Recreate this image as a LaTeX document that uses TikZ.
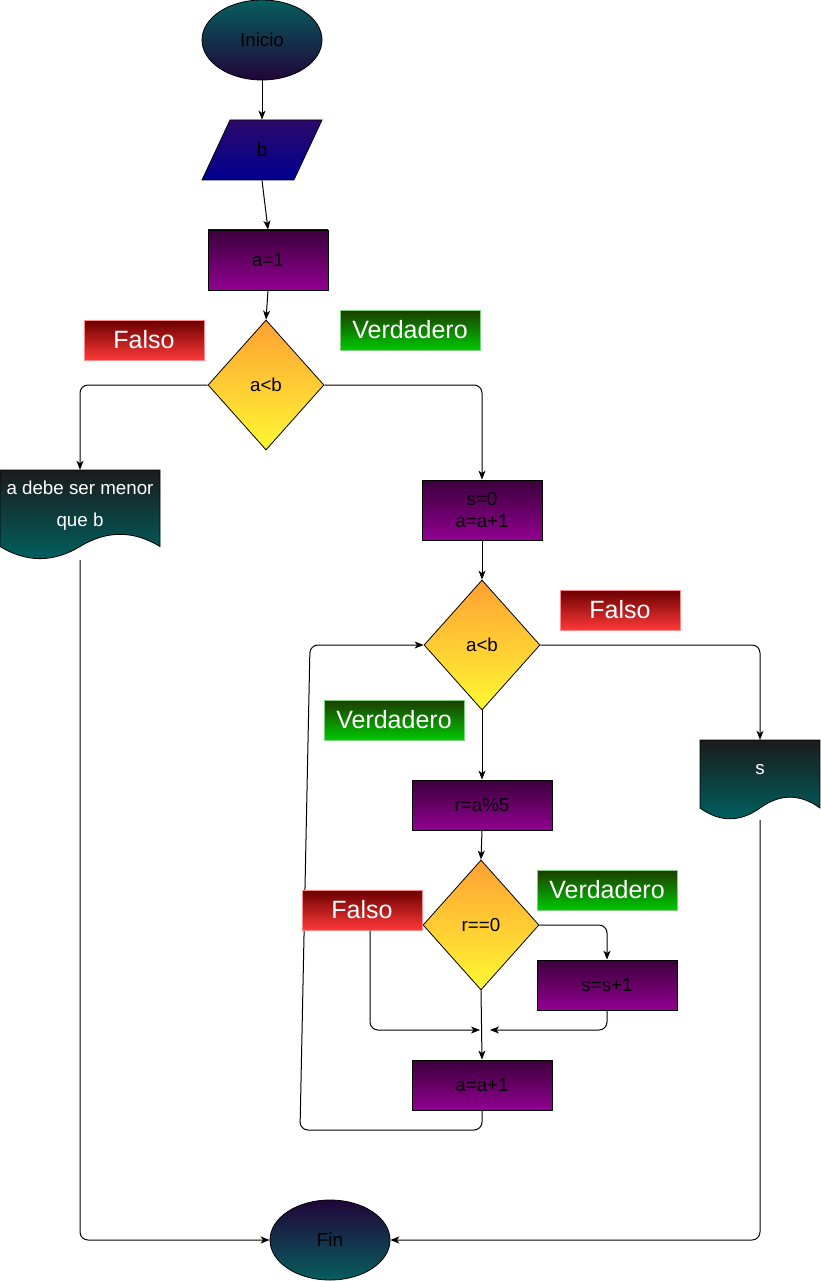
\documentclass[tikz,border=0pt]{standalone}
\usepackage{fontspec}
\setmainfont{Liberation Sans}
\usetikzlibrary{shapes.geometric,arrows.meta}
\definecolor{termtop}{HTML}{065E5E}
\definecolor{termbot}{HTML}{210538}
\definecolor{intop}{HTML}{2C0A6B}
\definecolor{inbot}{HTML}{00008F}
\definecolor{proctop}{HTML}{3C003C}
\definecolor{procbot}{HTML}{910091}
\definecolor{condtop}{HTML}{FFA033}
\definecolor{condbot}{HTML}{FFF833}
\definecolor{doctop}{HTML}{1B1B1B}
\definecolor{docbot}{HTML}{006262}
\definecolor{falsotop}{HTML}{6A0000}
\definecolor{falsobot}{HTML}{FF3838}
\definecolor{falsoline}{HTML}{FF8C8C}
\definecolor{verdtop}{HTML}{1C3C00}
\definecolor{verdbot}{HTML}{00C800}
\definecolor{verdline}{HTML}{80D080}

\begin{document}
\begin{tikzpicture}[x=1pt,y=1pt,
  base/.style={draw=black,line width=0.8pt,font=\fontsize{18.75}{22.5}\selectfont,align=center},
  term/.style={base,ellipse,minimum width=120pt,minimum height=80pt},
  inbox/.style={base,trapezium,trapezium left angle=71.57,trapezium right angle=108.43,
    trapezium stretches=true,minimum width=120pt,minimum height=60pt,top color=intop,bottom color=inbot},
  proc/.style={base,rectangle,top color=proctop,bottom color=procbot},
  cond/.style={base,diamond,minimum width=116pt,minimum height=130pt,top color=condtop,bottom color=condbot},
  docarea/.style={rectangle},
  doctext/.style={text=white,font=\fontsize{18.75}{22.5}\selectfont,align=center},
  tag/.style={rectangle,text=white,line width=1pt,font=\fontsize{25}{30}\selectfont,minimum height=40pt},
  falso/.style={tag,draw=falsoline,top color=falsotop,bottom color=falsobot,minimum width=120pt},
  verdad/.style={tag,draw=verdline,top color=verdtop,bottom color=verdbot,minimum width=140pt},
  flow/.style={line width=1pt,rounded corners=8pt,-{Stealth[length=9pt,width=7pt,inset=2.5pt]}}
]
\tikzstyle{every node}+=[inner sep=0pt]
\useasboundingbox (0,0) rectangle (821,-1281);
% start / end
\node [term,top color=termtop,bottom color=termbot] (inicio) at (262,-40) {Inicio};
\node [term,top color=termbot,bottom color=termtop] (fin) at (330,-1240) {Fin};
% input and first test
\node [inbox] (leer) at (262,-150) {b};
\node [proc,minimum width=120pt,minimum height=60pt] (ainit) at (268,-260) {a=1};
\node [cond] (test1) at (266,-385) {a<b};
% message output
\shade [draw=black,line width=0.8pt,top color=doctop,bottom color=docbot]
  (0,-470) -- (160,-470) -- (160,-546.5)
  .. controls (133.3,-530.3) and (106.7,-530.3) .. (80,-546.5)
  .. controls (53.3,-562.7) and (26.7,-562.7) .. (0,-546.5) -- cycle;
\node [docarea,minimum width=160pt,minimum height=90pt] (msg) at (80,-515) {};
\node [doctext] (msgtxt) at (80,-506) {a debe ser menor\\[9.5pt]que b};
% loop
\node [proc,minimum width=120pt,minimum height=60pt] (sinit) at (482,-510) {s=0\\a=a+1};
\node [cond] (test2) at (482,-645) {a<b};
\node [proc,minimum width=140pt,minimum height=50pt] (resto) at (482,-805) {r=a\%5};
\node [cond] (test3) at (481,-925) {r==0};
\node [proc,minimum width=140pt,minimum height=50pt] (suma) at (607,-985) {s=s+1};
\node [proc,minimum width=140pt,minimum height=50pt] (incr) at (482,-1085) {a=a+1};
% result output
\shade [draw=black,line width=0.8pt,top color=doctop,bottom color=docbot]
  (700,-740) -- (820,-740) -- (820,-808)
  .. controls (800,-793.6) and (780,-793.6) .. (760,-808)
  .. controls (740,-822.4) and (720,-822.4) .. (700,-808) -- cycle;
\node [docarea,minimum width=120pt,minimum height=80pt] (res) at (760,-780) {};
\node [doctext] (restxt) at (760,-770) {s};
% helper points
\coordinate (jleft) at (480,-1030);
\coordinate (jright) at (490,-1030);
\coordinate (lbot) at (300,-1130);
\coordinate (ltop) at (310,-645);
% connectors
\draw [flow] (inicio) -- (leer);
\draw [flow] (leer.south) -- (ainit.north);
\draw [flow] (ainit.south) -- (test1.north);
\draw [flow] (test1.west) -| (msg.north);
\draw [flow] (test1.east) -| (sinit.north);
\draw [flow] (msg.south) |- (fin.west);
\draw [flow] (sinit.south) -- (test2.north);
\draw [flow] (test2.east) -| (res.north);
\draw [flow] (res.south) |- (fin.east);
\draw [flow] (test2.south) -- (resto.north);
\draw [flow] (resto.south) -- (test3.north);
\draw [flow] (test3.east) -| (suma.north);
\draw [flow] (suma.south) |- (jright);
\draw [flow] (test3.south) -- (incr.north);
\draw [flow] (incr.south) |- (lbot) -- (ltop) -- (test2.west);
% branch labels
\node [falso] (no1) at (144,-340) {Falso};
\node [verdad] (si1) at (410,-330) {Verdadero};
\node [falso] (no2) at (620,-610) {Falso};
\node [verdad] (si2) at (394,-720) {Verdadero};
\node [verdad] (si3) at (607,-890) {Verdadero};
\node [falso] (no3) at (362,-910) {Falso};
\draw [flow] ([xshift=8pt]no3.south) |- (jleft);
\end{tikzpicture}
\end{document}
